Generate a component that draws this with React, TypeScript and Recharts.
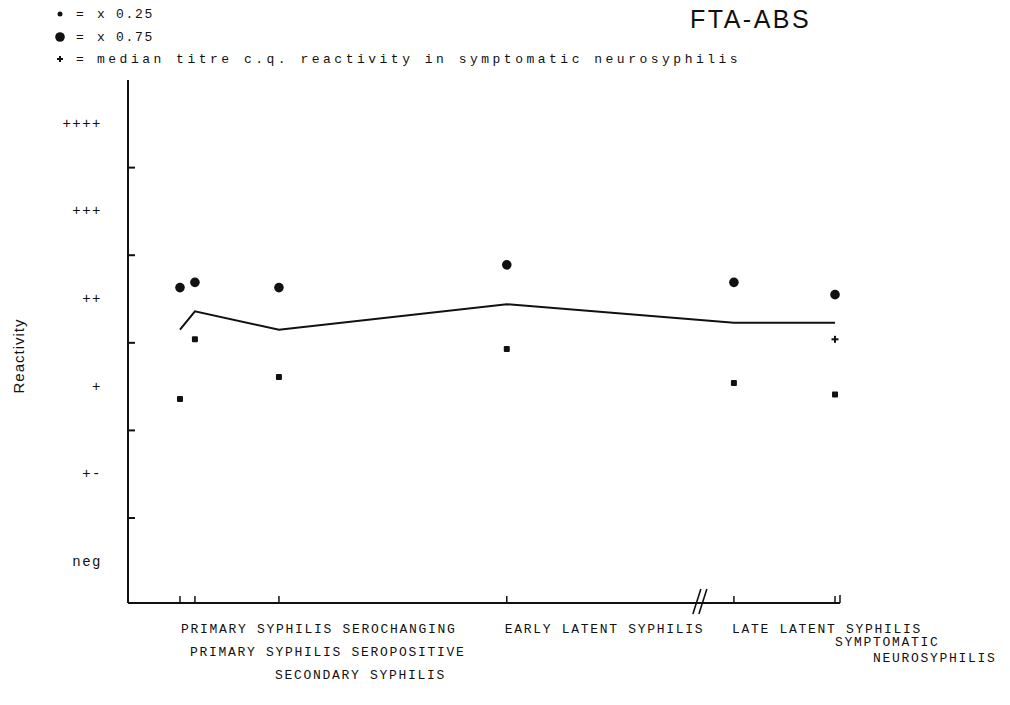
import {
  ComposedChart,
  Line,
  ReferenceDot,
  Scatter,
  XAxis,
  YAxis,
} from "recharts";

// group labels (x axis), one entry per group, split where the label wraps
const categories = [
  ["PRIMARY SYPHILIS SEROCHANGING"],
  ["PRIMARY SYPHILIS SEROPOSITIVE"],
  ["SECONDARY SYPHILIS"],
  ["EARLY LATENT SYPHILIS"],
  ["LATE LATENT SYPHILIS"],
  ["SYMPTOMATIC", "NEUROSYPHILIS"],
];
// position of each group along the (broken) x axis, 0..100
const xPositions = [7.3, 9.4, 21.2, 53.2, 85.1, 99.3];
const medianValues = [2.65, 2.86, 2.65, 2.94, 2.73, 2.73];
const q75Values = [3.13, 3.19, 3.13, 3.39, 3.19, 3.05];
const q25Values = [1.86, 2.54, 2.11, 2.43, 2.04, 1.91];
const neuroMedianX = [99.3];
const neuroMedianY = [2.54];

const levelLabels = ["neg", "+-", "+", "++", "+++", "++++"];
const levelTicks = [0, 0.5, 1, 1.5, 2, 2.5, 3, 3.5, 4, 4.5, 5];
const axisBreakAt = 80.6;
const axisEnd = 100;

const medianData = xPositions.map((x, i) => ({ x, y: medianValues[i] }));
const q75Data = xPositions.map((x, i) => ({ x, y: q75Values[i] }));
const q25Data = xPositions.map((x, i) => ({ x, y: q25Values[i] }));
const plusData = neuroMedianX.map((x, i) => ({ x, y: neuroMedianY[i] }));

// where each group's label sits relative to its tick
const labelLayout = [
  { dx: 1, dy: 26, dx2: 0, dy2: 0 },
  { dx: -5, dy: 49, dx2: 0, dy2: 0 },
  { dx: -4, dy: 72, dx2: 0, dy2: 0 },
  { dx: -2, dy: 26, dx2: 0, dy2: 0 },
  { dx: -2, dy: 26, dx2: 0, dy2: 0 },
  { dx: 0, dy: 39, dx2: 38, dy2: 55 },
];

const INK = "#111";
const MONO = "'Liberation Mono', 'DejaVu Sans Mono', monospace";
const SANS = "'Liberation Sans', Arial, sans-serif";

function YTick(props: any) {
  const { x, y, payload } = props;
  const v = payload.value as number;
  if (Number.isInteger(v)) {
    return (
      <text
        x={x - 26}
        y={y}
        textAnchor="end"
        dominantBaseline="central"
        fontFamily={MONO}
        fontSize={14}
        letterSpacing={1.5}
        fill={INK}
      >
        {levelLabels[v]}
      </text>
    );
  }
  return <line x1={x} x2={x + 7} y1={y} y2={y} stroke={INK} strokeWidth={2} />;
}

function XTick(props: any) {
  const { x, y, payload } = props;
  const i = xPositions.indexOf(payload.value);
  const h = i < 0 ? 8 : 7;
  const lay = labelLayout[i];
  return (
    <g>
      <line x1={x} x2={x} y1={y} y2={y - h} stroke={INK} strokeWidth={1.5} />
      {i >= 0 &&
        categories[i].map((t, k) => (
          <text
            key={k}
            x={x + lay.dx + (k ? lay.dx2 : 0)}
            y={y + (k ? lay.dy2 : lay.dy)}
            dominantBaseline="central"
            fontFamily={MONO}
            fontSize={13}
            letterSpacing={1.7}
            fill={INK}
          >
            {t}
          </text>
        ))}
    </g>
  );
}

const BigDot = (p: any) => <circle cx={p.cx} cy={p.cy} r={4.8} fill={INK} />;

const SmallDot = (p: any) => (
  <rect x={p.cx - 3} y={p.cy - 3} width={6} height={6} rx={1} fill={INK} />
);

const PlusMark = (p: any) => (
  <g stroke={INK} strokeWidth={2}>
    <line x1={p.cx - 3.5} x2={p.cx + 3.5} y1={p.cy} y2={p.cy} />
    <line x1={p.cx} x2={p.cx} y1={p.cy - 3.5} y2={p.cy + 3.5} />
  </g>
);

const BreakMark = (p: any) => (
  <g stroke={INK} strokeWidth={1.6}>
    <line x1={p.cx - 9} y1={p.cy + 11} x2={p.cx - 1} y2={p.cy - 14} />
    <line x1={p.cx - 3} y1={p.cy + 11} x2={p.cx + 5} y2={p.cy - 14} />
  </g>
);

function Legend() {
  const rows = [
    {
      mark: <circle cx={8} cy={8} r={2.5} fill={INK} />,
      text: "x 0.25",
      top: 6,
      spacing: 1.7,
    },
    {
      mark: <circle cx={8} cy={8} r={4.8} fill={INK} />,
      text: "x 0.75",
      top: 29,
      spacing: 1.7,
    },
    {
      mark: (
        <g stroke={INK} strokeWidth={2}>
          <line x1={5} x2={11} y1={8} y2={8} />
          <line x1={8} x2={8} y1={5} y2={11} />
        </g>
      ),
      text: "median titre c.q. reactivity in symptomatic neurosyphilis",
      top: 51,
      spacing: 3.5,
    },
  ];
  return (
    <>
      {rows.map((r) => (
        <div
          key={r.text}
          style={{
            position: "absolute",
            left: 52,
            top: r.top,
            height: 16,
            display: "flex",
            alignItems: "center",
            fontFamily: MONO,
            fontSize: 13,
            color: INK,
            whiteSpace: "nowrap",
          }}
        >
          <svg width={16} height={16}>
            {r.mark}
          </svg>
          <span style={{ marginLeft: 8, width: 21 }}>=</span>
          <span style={{ letterSpacing: r.spacing }}>{r.text}</span>
        </div>
      ))}
    </>
  );
}

export default function App() {
  return (
    <div
      style={{
        position: "absolute",
        left: 0,
        top: 0,
        width: 1010,
        height: 705,
        background: "#fff",
      }}
    >
      <ComposedChart
        width={1010}
        height={705}
        margin={{ top: 80, right: 170, left: 68, bottom: 72 }}
      >
        <XAxis
          type="number"
          dataKey="x"
          domain={[0, axisEnd]}
          ticks={[...xPositions, axisEnd]}
          interval={0}
          height={30}
          tickSize={0}
          tickMargin={0}
          tick={<XTick />}
          axisLine={{ stroke: INK, strokeWidth: 2 }}
          tickLine={false}
        />
        <YAxis
          type="number"
          domain={[-0.47, 5.5]}
          ticks={levelTicks}
          interval={0}
          width={60}
          tickSize={0}
          tickMargin={0}
          tick={<YTick />}
          axisLine={{ stroke: INK, strokeWidth: 2 }}
          tickLine={false}
        />
        <Line
          data={medianData}
          dataKey="y"
          type="linear"
          stroke={INK}
          strokeWidth={2}
          dot={false}
          isAnimationActive={false}
        />
        <Scatter data={q75Data} dataKey="y" shape={<BigDot />} isAnimationActive={false} />
        <Scatter data={q25Data} dataKey="y" shape={<SmallDot />} isAnimationActive={false} />
        <Scatter data={plusData} dataKey="y" shape={<PlusMark />} isAnimationActive={false} />
        <ReferenceDot
          x={axisBreakAt}
          y={-0.47}
          ifOverflow="visible"
          shape={<BreakMark />}
        />
      </ComposedChart>

      <Legend />

      <div
        style={{
          position: "absolute",
          left: 690,
          top: 5,
          fontFamily: SANS,
          fontSize: 25,
          letterSpacing: 2.5,
          color: INK,
        }}
      >
        FTA-ABS
      </div>

      <div
        style={{
          position: "absolute",
          left: 18,
          top: 356,
          transform: "translate(-50%, -50%) rotate(-90deg)",
          fontFamily: SANS,
          fontSize: 15,
          letterSpacing: 1,
          color: INK,
          whiteSpace: "nowrap",
        }}
      >
        Reactivity
      </div>
    </div>
  );
}
